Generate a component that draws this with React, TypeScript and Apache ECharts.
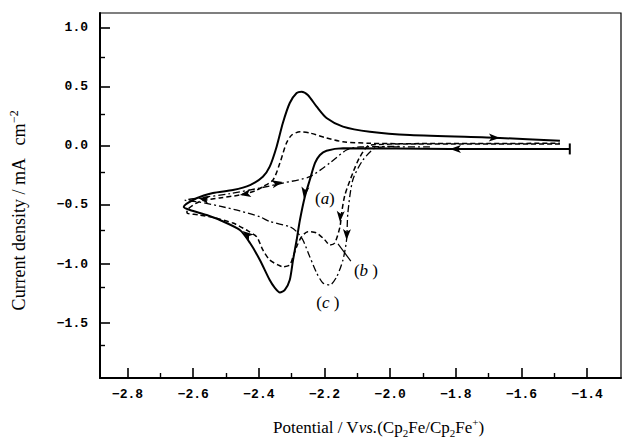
import React, { useEffect, useRef } from "react";
import * as echarts from "echarts";

// Axis ticks
const xMajorTicks = [-2.8, -2.6, -2.4, -2.2, -2.0, -1.8, -1.6, -1.4];
const yMajorTicks = [-1.5, -1.0, -0.5, 0.0, 0.5, 1.0];
const xRange = [-2.884, -1.297];
const yRange = [-1.966, 1.127];
// Minor-tick scales (minor ticks fall halfway between these steps)
const xMinorRange = [-2.8, -1.4];
const xMinorStep = 0.2;
const yMinorRange = [-2.0, 1.0];
const yMinorStep = 0.5;

// Curve (a) solid: [potential, current density]
const curveAForward = [
  [-1.453, -0.025], [-1.818, -0.025], [-2.144, -0.019], [-2.194, -0.04], [-2.214, -0.076],
  [-2.229, -0.144], [-2.245, -0.288], [-2.26, -0.43], [-2.275, -0.627], [-2.285, -0.797],
  [-2.296, -0.966], [-2.306, -1.136], [-2.321, -1.22], [-2.336, -1.242], [-2.352, -1.2],
  [-2.367, -1.136], [-2.397, -0.966], [-2.427, -0.822], [-2.458, -0.712], [-2.519, -0.627],
  [-2.559, -0.585], [-2.61, -0.542], [-2.629, -0.517],
];
const curveAReturn = [
  [-2.59, -0.443], [-2.54, -0.398], [-2.479, -0.373], [-2.427, -0.331], [-2.388, -0.26],
  [-2.367, -0.175], [-2.346, -0.006], [-2.327, 0.195], [-2.306, 0.364], [-2.285, 0.449],
  [-2.27, 0.46], [-2.251, 0.432], [-2.224, 0.333], [-2.194, 0.237], [-2.144, 0.164],
  [-2.062, 0.121], [-1.94, 0.093], [-1.666, 0.068], [-1.483, 0.045],
];

// Curve (b) dashed
const curveBForward = [
  [-1.483, 0.017], [-1.94, 0.017], [-2.062, 0.008], [-2.092, -0.091], [-2.114, -0.229],
  [-2.138, -0.415], [-2.148, -0.568], [-2.153, -0.684], [-2.169, -0.822], [-2.184, -0.839],
  [-2.199, -0.797], [-2.224, -0.737], [-2.251, -0.726], [-2.27, -0.769], [-2.285, -0.853],
  [-2.296, -0.938], [-2.306, -1.008], [-2.327, -1.023], [-2.342, -1.008], [-2.367, -0.966],
  [-2.388, -0.881], [-2.407, -0.769], [-2.438, -0.712], [-2.479, -0.653], [-2.534, -0.61],
  [-2.58, -0.585], [-2.619, -0.568],
];
const curveBReturn = [
  [-2.619, -0.55], [-2.58, -0.47], [-2.519, -0.44], [-2.458, -0.415], [-2.412, -0.38],
  [-2.388, -0.345], [-2.357, -0.288], [-2.336, -0.144], [-2.316, 0.025], [-2.3, 0.093],
  [-2.275, 0.121], [-2.245, 0.11], [-2.194, 0.068], [-2.144, 0.036], [-2.062, 0.023],
  [-1.971, 0.02], [-1.483, 0.023],
];

// Curve (c) dash-dot
const curveCForward = [
  [-1.879, -0.008], [-2.001, -0.008], [-2.042, -0.013], [-2.083, -0.119], [-2.114, -0.288],
  [-2.129, -0.568], [-2.133, -0.797], [-2.144, -0.966], [-2.163, -1.108], [-2.184, -1.178],
  [-2.205, -1.161], [-2.224, -1.076], [-2.245, -0.938], [-2.266, -0.797], [-2.285, -0.726],
  [-2.306, -0.684], [-2.367, -0.64], [-2.397, -0.6], [-2.458, -0.55], [-2.519, -0.51],
  [-2.58, -0.475], [-2.625, -0.46],
];
const curveCReturn = [
  [-2.58, -0.44], [-2.488, -0.404], [-2.397, -0.356], [-2.327, -0.314], [-2.245, -0.26],
  [-2.184, -0.144], [-2.133, -0.034], [-2.092, -0.008], [-1.971, -0.004],
];

// Direction arrows: [potential, current, rotation]
const arrows = [
  [-1.666, 0.068, -92], [-1.818, -0.025, 90], [-2.263, -0.44, 172], [-2.153, -0.644, 176],
  [-2.133, -0.797, 178], [-2.327, -0.305, -78], [-2.458, -0.415, 100], [-2.45, -0.72, 53],
  [-2.585, -0.44, 78],
];

// Curve labels: [text, potential, current]
const curveLabels = [
  ["({it|a})", -2.199, -0.449],
  ["({it|b} )", -2.074, -1.051],
  ["({it|c} )", -2.19, -1.322],
];
const pointerLine = [[-2.12, -0.975], [-2.159, -0.83]];
const scanEnd = [-1.453, -0.025];

const fmt = (v: number) => v.toFixed(1).replace("-", "\u2212");
const labelFont = "'Liberation Mono', 'DejaVu Sans Mono', monospace";
const serif = "'Liberation Serif', 'DejaVu Serif', serif";

export default function App() {
  const ref = useRef<HTMLDivElement>(null);
  useEffect(() => {
    document.body.style.margin = "0";
    const chart = echarts.init(ref.current!, undefined, { renderer: "svg" });

    // main plot box geometry
    const W = 634, H = 437;
    const left = 100, right = 13, top = 13, bottom = 59;
    const pxPerX = (W - left - right) / (xRange[1] - xRange[0]);
    const pxPerY = (H - top - bottom) / (yRange[1] - yRange[0]);
    // grids aligned to the main scale so that minor-tick axes share it
    const xTickGrid = {
      left: left + (xMinorRange[0] - xRange[0]) * pxPerX,
      right: right + (xRange[1] - xMinorRange[1]) * pxPerX,
      top, bottom, show: false, outerBoundsMode: "none",
    };
    const yTickGrid = {
      left, right,
      top: top + (yRange[1] - yMinorRange[1]) * pxPerY,
      bottom: bottom - (yMinorRange[0] - yRange[0]) * pxPerY,
      show: false, outerBoundsMode: "none",
    };

    const hiddenAxis = (gridIndex: number) => ({
      type: "value", gridIndex, show: false, min: 0, max: 1,
    });
    const minorAxis = (gridIndex: number, range: number[], step: number, position: string) => ({
      type: "value", gridIndex, position,
      min: range[0], max: range[1], interval: step,
      splitLine: { show: false },
      axisLine: { show: false, onZero: false },
      axisTick: { show: false, inside: true },
      axisLabel: { show: false },
      minorTick: { show: true, splitNumber: 2, length: 5, lineStyle: { color: "#000", width: 1.4 } },
      minorSplitLine: { show: false },
    });

    const option: any = {
      animation: false,
      backgroundColor: "#fff",
      grid: [
        {
          left, right, top, bottom,
          show: true, borderColor: "#000", borderWidth: 1.2,
          outerBoundsMode: "none",
        },
        xTickGrid,
        yTickGrid,
      ],
      xAxis: [
        {
          type: "value", gridIndex: 0, min: xRange[0], max: xRange[1], position: "bottom",
          splitLine: { show: false },
          axisLine: { show: true, onZero: false, lineStyle: { color: "#000", width: 2 } },
          axisTick: { show: true, inside: true, length: 10, customValues: xMajorTicks, lineStyle: { color: "#000", width: 1.6 } },
          axisLabel: {
            show: true, customValues: xMajorTicks, formatter: fmt, margin: 10,
            color: "#000", fontFamily: labelFont, fontWeight: "bold", fontSize: 13,
          },
          name: "Potential / V{it|vs.}(Cp{sub|2}Fe/Cp{sub|2}Fe{sup|+})",
          nameLocation: "middle",
          nameGap: 38,
          nameTextStyle: {
            color: "#000", fontFamily: serif, fontSize: 17, lineHeight: 22,
            padding: [0, 0, 0, 36],
            rich: {
              it: { fontStyle: "italic", fontFamily: serif, fontSize: 17, color: "#000" },
              sub: { fontFamily: serif, fontSize: 11, lineHeight: 11, verticalAlign: "bottom", color: "#000" },
              sup: { fontFamily: serif, fontSize: 11, lineHeight: 11, verticalAlign: "top", color: "#000" },
            },
          },
        },
        minorAxis(1, xMinorRange, xMinorStep, "bottom"),
        hiddenAxis(2),
      ],
      yAxis: [
        {
          type: "value", gridIndex: 0, min: yRange[0], max: yRange[1], position: "left",
          splitLine: { show: false },
          axisLine: { show: true, onZero: false, lineStyle: { color: "#000", width: 2 } },
          axisTick: { show: true, inside: true, length: 10, customValues: yMajorTicks, lineStyle: { color: "#000", width: 1.6 } },
          axisLabel: {
            show: true, customValues: yMajorTicks, formatter: fmt, margin: 12,
            color: "#000", fontFamily: labelFont, fontWeight: "bold", fontSize: 13,
          },
          name: "Current density / mA   cm{sup|\u22122}",
          nameLocation: "middle",
          nameGap: 70,
          nameRotate: 90,
          nameTextStyle: {
            color: "#000", fontFamily: serif, fontSize: 18, lineHeight: 22,
            padding: [0, 30, 0, 0],
            rich: {
              sup: { fontFamily: serif, fontSize: 12, lineHeight: 12, verticalAlign: "top", color: "#000" },
            },
          },
        },
        hiddenAxis(1),
        minorAxis(2, yMinorRange, yMinorStep, "left"),
      ],
      series: [
        {
          type: "line", name: "a", smooth: 0.25, showSymbol: false, clip: false,
          xAxisIndex: 0, yAxisIndex: 0,
          data: [...curveAForward, ...curveAReturn],
          lineStyle: { color: "#000", width: 2 },
          markPoint: {
            silent: true,
            data: [
              ...arrows.map((a) => ({
                coord: [a[0], a[1]], symbol: "arrow", symbolSize: [6, 11], symbolRotate: a[2],
                itemStyle: { color: "#000" }, label: { show: false },
              })),
              {
                coord: scanEnd, symbol: "rect", symbolSize: [2, 11],
                itemStyle: { color: "#000" }, label: { show: false },
              },
            ],
          },
        },
        {
          type: "line", name: "b", smooth: 0.25, showSymbol: false, clip: false,
          xAxisIndex: 0, yAxisIndex: 0,
          data: [...curveBForward, ...curveBReturn],
          lineStyle: { color: "#000", width: 1.5, type: [5, 3] },
          markLine: {
            silent: true, symbol: "none",
            lineStyle: { color: "#000", width: 1.2, type: "solid" },
            label: { show: false },
            data: [[{ coord: pointerLine[0] }, { coord: pointerLine[1] }]],
          },
        },
        {
          type: "line", name: "c", smooth: 0.25, showSymbol: false, clip: false,
          xAxisIndex: 0, yAxisIndex: 0,
          data: [...curveCForward, ...curveCReturn],
          lineStyle: { color: "#000", width: 1.3, type: [7, 3, 2, 3] },
          markPoint: {
            silent: true,
            data: curveLabels.map((l) => ({
              coord: [l[1], l[2]], symbol: "circle", symbolSize: 0,
              label: {
                show: true, position: "inside", formatter: l[0] as string,
                color: "#000", fontFamily: serif, fontSize: 17,
                rich: { it: { fontStyle: "italic", fontFamily: serif, fontSize: 17, color: "#000" } },
              },
            })),
          },
        },
      ],
    };
    chart.setOption(option);
    return () => chart.dispose();
  }, []);
  return <div ref={ref} style={{ width: 634, height: 437 }} />;
}
